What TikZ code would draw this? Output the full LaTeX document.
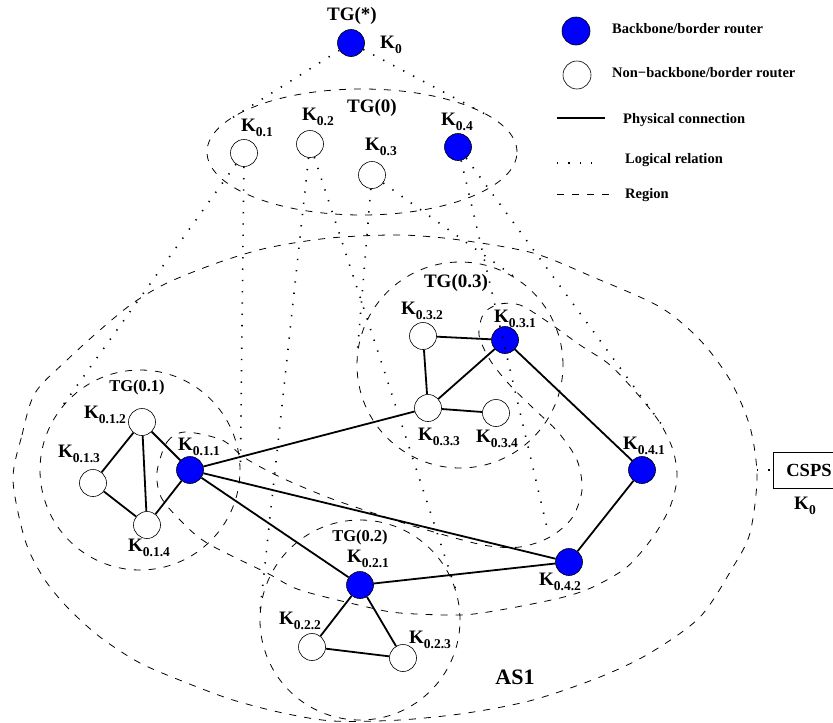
\documentclass[tikz,border=0pt]{standalone}
\usepackage{fontspec}
\setmainfont{Liberation Serif}
\usetikzlibrary{positioning,shapes,calc}

\newcommand{\kname}[1]{{\fontsize{19}{19}\selectfont K}\raisebox{-5pt}{\fontsize{13.5}{13.5}\selectfont #1}}

\tikzset{
router/.style={circle, draw=black, line width=0.6pt, minimum size=27pt, inner sep=0pt},
backbone/.style={router, fill=blue},
nonbackbone/.style={router, fill=white},
region/.style={draw=black, line width=0.8pt, dash pattern=on 7pt off 8pt, inner sep=0pt},
physical/.style={line width=1.8pt},
logical/.style={line width=1.6pt, dash pattern=on 1.3pt off 10pt},
tglabel/.style={inner sep=0pt, font=\bfseries\fontsize{19}{19}\selectfont},
tgsmall/.style={inner sep=0pt, font=\bfseries\fontsize{16.5}{16.5}\selectfont},
klabel/.style={inner sep=0pt, font=\bfseries},
legend/.style={inner sep=0pt, anchor=base west, font=\bfseries\fontsize{14.5}{14.5}\selectfont},
}

\begin{document}
\begin{tikzpicture}[x=1pt, y=-1pt]

    \useasboundingbox (0, 0) rectangle (833, 723);
    \clip (0, 0) rectangle (833, 723);

    % regions
    \draw[region] plot[smooth cycle] coordinates {(13,480) (22,435) (35,393) (67,360) (100,330) (133,303) (167,283) (217,263) (267,248) (330,238) (400,235) (460,240) (533,253) (593,277) (660,307) (700,340) (730,380) (750,427) (757,477) (750,533) (733,567) (700,617) (650,653) (600,677) (533,700) (467,713) (400,720) (333,721) (283,713) (233,700) (187,683) (140,663) (100,637) (67,607) (43,577) (25,540)};

    \draw[region] plot[smooth cycle] coordinates {(157,472) (167,442) (185,432) (222,440) (245,458) (280,477) (327,497) (373,513) (420,528) (483,545) (520,547) (550,537) (572,518) (582,490) (577,460) (558,432) (533,408) (508,383) (490,360) (479,335) (484,313) (500,304) (520,305) (545,320) (580,345) (610,365) (640,397) (660,423) (673,450) (677,478) (670,507) (653,537) (627,567) (593,587) (560,598) (500,610) (460,615) (400,613) (367,607) (300,590) (267,573) (207,543) (180,520) (161,497)};

    \node[region, ellipse, minimum width=310pt, minimum height=126pt] (tg0) at(362, 152) {};
    \node[region, circle, minimum size=200pt] (tg01) at(140, 470) {};
    \node[region, circle, minimum size=200pt] (tg02) at(360, 620) {};
    \node[region, circle, minimum size=206pt] (tg03) at(460, 365) {};

    % routers
    \node[backbone] (k0) at(351, 43) {};

    \node[nonbackbone] (k01) at(244, 153) {};
    \node[nonbackbone] (k02) at(310, 144) {};
    \node[nonbackbone] (k03) at(372, 175) {};
    \node[backbone] (k04) at(458, 147) {};

    \node[backbone] (k011) at(190, 470) {};
    \node[nonbackbone] (k012) at(142, 422) {};
    \node[nonbackbone] (k013) at(93, 483) {};
    \node[nonbackbone] (k014) at(147, 525) {};

    \node[backbone] (k021) at(360, 585) {};
    \node[nonbackbone] (k022) at(312, 647) {};
    \node[nonbackbone] (k023) at(403, 658) {};

    \node[backbone] (k031) at(505, 340) {};
    \node[nonbackbone] (k032) at(423, 336) {};
    \node[nonbackbone] (k033) at(428, 408) {};
    \node[nonbackbone] (k034) at(496, 413) {};

    \node[backbone] (k041) at(642, 470) {};
    \node[backbone] (k042) at(569, 562) {};

    \node[draw=black, line width=0.6pt, minimum width=72pt, minimum height=36pt, inner sep=0pt,
          font=\bfseries\fontsize{18.5}{18.5}\selectfont] (csps) at(809, 470) {CSPS};

    % logical relations
    \coordinate (t0a) at(232, 118);
    \coordinate (t0b) at(485, 114);
    \coordinate (t01a) at (tangent cs:node=tg01, point={(k01)}, solution=1);
    \coordinate (t01b) at (tangent cs:node=tg01, point={(k01)}, solution=2);
    \coordinate (t02a) at (tangent cs:node=tg02, point={(k02)}, solution=1);
    \coordinate (t02b) at (tangent cs:node=tg02, point={(k02)}, solution=2);
    \coordinate (t03a) at (tangent cs:node=tg03, point={(k03)}, solution=1);
    \coordinate (t03b) at (tangent cs:node=tg03, point={(k03)}, solution=2);
    \coordinate (t04a) at(548, 532);
    \coordinate (t04b) at(662, 425);
    \coordinate (as1e) at(757, 470);

    \draw[logical] (k0) -- (t0a);
    \draw[logical] (k0) -- (t0b);
    \draw[logical] (k01) -- (t01a);
    \draw[logical] (k01) -- (t01b);
    \draw[logical] (k02) -- (t02a);
    \draw[logical] (k02) -- (t02b);
    \draw[logical] (k03) -- (t03a);
    \draw[logical] (k03) -- (t03b);
    \draw[logical] (k04) -- (t04a);
    \draw[logical] (k04) -- (t04b);
    \draw[logical] (as1e) -- (csps);

    % physical connections
    \draw[physical] (k012) -- (k013);
    \draw[physical] (k012) -- (k014);
    \draw[physical] (k012) -- (k011);
    \draw[physical] (k013) -- (k014);
    \draw[physical] (k014) -- (k011);

    \draw[physical] (k011) -- (k033);
    \draw[physical] (k011) -- (k042);
    \draw[physical] (k011) -- (k021);

    \draw[physical] (k021) -- (k022);
    \draw[physical] (k021) -- (k023);
    \draw[physical] (k022) -- (k023);
    \draw[physical] (k021) -- (k042);

    \draw[physical] (k032) -- (k031);
    \draw[physical] (k032) -- (k033);
    \draw[physical] (k033) -- (k031);
    \draw[physical] (k033) -- (k034);

    \draw[physical] (k031) -- (k041);
    \draw[physical] (k041) -- (k042);

    % labels
    \node[tglabel] (ltgs) at(352, 16) {TG(*)};
    \node[klabel] (lk0) at(391, 45) {\kname{0}};
    \node[tglabel] (ltg0) at(372, 108) {TG(0)};
    \node[klabel] (lk01) at(257, 128) {\kname{0.1}};
    \node[klabel] (lk02) at(318, 117) {\kname{0.2}};
    \node[klabel] (lk03) at(381, 147) {\kname{0.3}};
    \node[klabel] (lk04) at(457, 122) {\kname{0.4}};

    \node[tgsmall] (ltg01) at(137, 388) {TG(0.1)};
    \node[klabel] (lk012) at(105, 415) {\kname{0.1.2}};
    \node[klabel] (lk013) at(79, 454) {\kname{0.1.3}};
    \node[klabel] (lk011) at(199, 447) {\kname{0.1.1}};
    \node[klabel] (lk014) at(149, 548) {\kname{0.1.4}};

    \node[tgsmall] (ltg02) at(360, 538) {TG(0.2)};
    \node[klabel] (lk021) at(368, 559) {\kname{0.2.1}};
    \node[klabel] (lk022) at(300, 621) {\kname{0.2.2}};
    \node[klabel] (lk023) at(430, 640) {\kname{0.2.3}};

    \node[tglabel] (ltg03) at(456, 283) {TG(0.3)};
    \node[klabel] (lk032) at(422, 311) {\kname{0.3.2}};
    \node[klabel] (lk031) at(515, 319) {\kname{0.3.1}};
    \node[klabel] (lk033) at(439, 437) {\kname{0.3.3}};
    \node[klabel] (lk034) at(497, 439) {\kname{0.3.4}};

    \node[klabel] (lk041) at(644, 446) {\kname{0.4.1}};
    \node[klabel] (lk042) at(560, 582) {\kname{0.4.2}};

    \node[inner sep=0pt, font=\bfseries\fontsize{22}{22}\selectfont] (las1) at(515, 677) {AS1};
    \node[klabel] (lcsps) at(805, 506) {\kname{0}};

    % legend
    \node[backbone, minimum size=28pt] (legbb) at(576, 31) {};
    \node[nonbackbone, minimum size=28pt] (legnb) at(577, 75) {};
    \coordinate (legph1) at(557, 118);
    \coordinate (legph2) at(605, 118);
    \coordinate (leglo1) at(557, 163);
    \coordinate (leglo2) at(600, 163);
    \coordinate (legre1) at(557, 194);
    \coordinate (legre2) at(609, 194);

    \draw[physical] (legph1) -- (legph2);
    \draw[logical] (leglo1) -- (leglo2);
    \draw[region] (legre1) -- (legre2);

    \node[legend] (txtbb) at(612, 33) {Backbone/border router};
    \node[legend] (txtnb) at(612, 77) {Non−backbone/border router};
    \node[legend] (txtph) at(623, 123) {Physical connection};
    \node[legend] (txtlo) at(625, 163) {Logical relation};
    \node[legend] (txtre) at(625, 198) {Region};

\end{tikzpicture}
\end{document}
